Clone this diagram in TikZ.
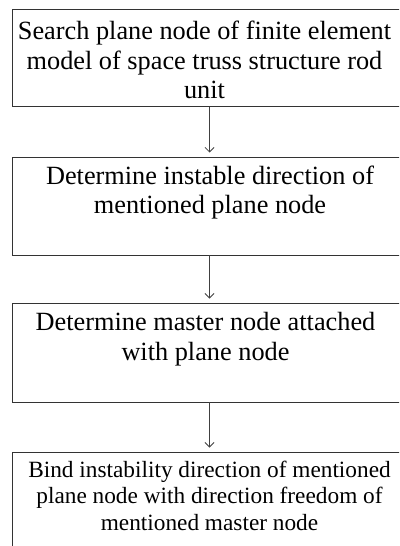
\documentclass[tikz,border=0pt]{standalone}
\usepackage{fontspec}
\setmainfont{Liberation Serif}
\usetikzlibrary{arrows.meta}
\begin{document}
\begin{tikzpicture}[x=1pt,y=-1pt,
  stepbox/.style={draw=black!80,line width=0.9pt,inner sep=0pt,outer sep=0pt,minimum width=390.5pt},
  bigtext/.style={align=center,inner sep=0pt,anchor=north,font=\fontsize{26.3}{29.5}\selectfont},
  smalltext/.style={align=center,inner sep=0pt,anchor=north,font=\fontsize{23.3}{26.5}\selectfont},
  conn/.style={draw=black!75,line width=0.8pt,shorten >=4.5pt,-{Straight Barb[length=4.5pt,width=9pt]}}]
\useasboundingbox (0,0) rectangle (399,546);
\clip (0,0) rectangle (399,546);
\fill[white] (0,0) rectangle (399,546);
% boxes
\node[stepbox,minimum height=97.4pt] (b1) at (207.75,58) {};
\node[stepbox,minimum height=98pt] (b2) at (207.75,206) {};
\node[stepbox,minimum height=99pt] (b3) at (207.75,352.5) {};
\node[stepbox,minimum height=118pt] (b4) at (207.75,511) {};
% texts
\node[bigtext] (t1) at (204.5,19.3) {\rule{0pt}{20pt}Search plane node of finite element\\model of space truss structure rod\\unit};
\node[bigtext] (t2) at (210,164) {\rule{0pt}{20pt}Determine instable direction of\\mentioned plane node};
\node[bigtext] (t3) at (205.5,310.5) {\rule{0pt}{20pt}Determine master node attached\\with plane node};
\node[smalltext] (t4) at (209.5,459) {\rule{0pt}{18pt}Bind instability direction of mentioned\\plane node with direction freedom of\\mentioned master node};
% connectors
\coordinate (ax) at (209.5,0);
\draw[conn] (b1.south -| ax) -- (b2.north -| ax);
\draw[conn] (b2.south -| ax) -- (b3.north -| ax);
\draw[conn] (b3.south -| ax) -- (b4.north -| ax);
\end{tikzpicture}
\end{document}
